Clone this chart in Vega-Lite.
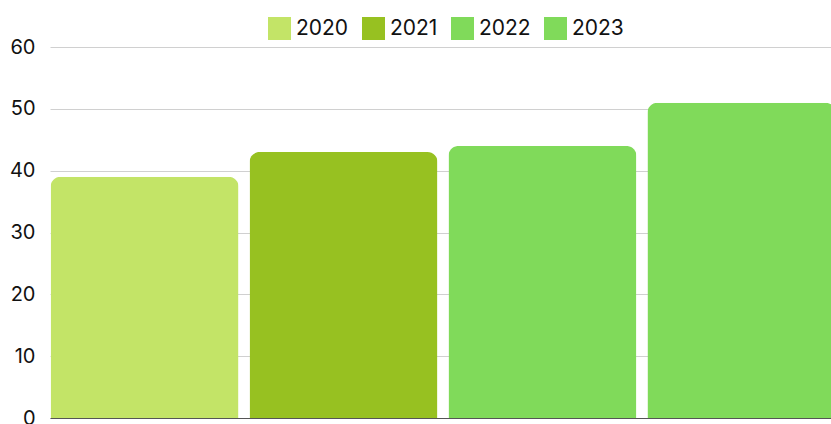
{
  "$schema": "https://vega.github.io/schema/vega-lite/v6.json",
  "width": 786,
  "height": 371,
  "autosize": {"type": "none"},
  "padding": {"left": 50, "top": 47, "right": 0, "bottom": 6},
  "background": "white",
  "config": {
    "view": {"stroke": null},
    "font": "Inter",
    "axis": {"labelFont": "Inter", "labelColor": "#111111"},
    "legend": {"labelFont": "Inter"}
  },
  "data": {
    "values": [
      {"year": "2020", "value": 39},
      {"year": "2021", "value": 43},
      {"year": "2022", "value": 44},
      {"year": "2023", "value": 51}
    ]
  },
  "mark": {"type": "bar", "cornerRadiusTopLeft": 10, "cornerRadiusTopRight": 10},
  "encoding": {
    "x": {
      "field": "year",
      "type": "nominal",
      "scale": {"paddingInner": 0.055, "paddingOuter": 0.003},
      "axis": {"labels": false, "ticks": false, "title": null, "domain": true, "domainColor": "#555555", "domainWidth": 1, "grid": false}
    },
    "y": {
      "field": "value",
      "type": "quantitative",
      "scale": {"domain": [0, 60], "nice": false},
      "axis": {
        "values": [0, 10, 20, 30, 40, 50, 60],
        "title": null,
        "domain": false,
        "ticks": false,
        "labelFontSize": 20,
        "labelPadding": 15,
        "gridColor": "#d0d0d0",
        "gridWidth": 1
      }
    },
    "color": {
      "field": "year",
      "type": "nominal",
      "scale": {"domain": ["2020", "2021", "2022", "2023"], "range": ["#c3e467", "#97c121", "#80da5a", "#80da5a"]},
      "legend": {
        "orient": "none",
        "legendX": 218,
        "legendY": -30,
        "direction": "horizontal",
        "title": null,
        "symbolType": "square",
        "symbolSize": 529,
        "symbolStrokeWidth": 0,
        "symbolOpacity": 1,
        "labelFontSize": 21,
        "labelColor": "#111111",
        "labelOffset": 5,
        "columnPadding": 13
      }
    }
  }
}
